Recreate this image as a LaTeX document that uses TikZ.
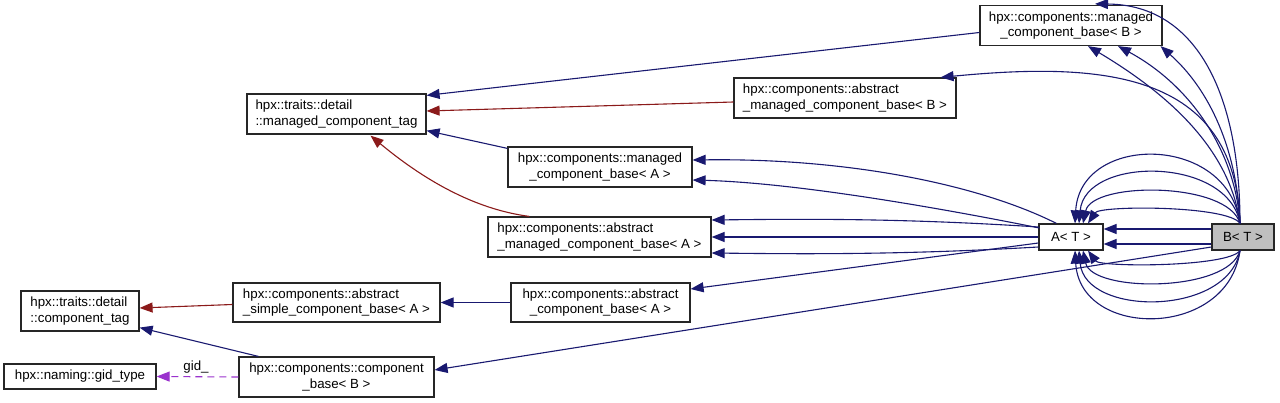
\documentclass[tikz,border=0pt]{standalone}
\usepackage{fontspec}
\setmainfont{Liberation Sans}
\usetikzlibrary{arrows.meta,calc}
\definecolor{navy}{HTML}{191970}
\definecolor{dred}{HTML}{8B1A1A}
\definecolor{dpurple}{HTML}{9A32CD}
\definecolor{lgray}{HTML}{BFBFBF}
\begin{document}
\begin{tikzpicture}[x=1pt,y=-1pt,
  box/.style={draw=black!85, line width=1.2pt, fill=white, inner sep=0pt,
    font=\fontsize{13.3}{15.5}\selectfont},
  tip/.style={-{Triangle[length=13pt,width=10pt]}},
  inh/.style={tip, draw=navy, line width=1.1pt},
  priv/.style={tip, draw=dred, line width=1.1pt},
  use/.style={-{Triangle[length=13pt,width=10pt,fill=dpurple]}, draw=dpurple, line width=1.1pt, dash pattern=on 7pt off 5pt},
  lbl/.style={font=\fontsize{13.3}{15.5}\selectfont, inner sep=0pt}]
\useasboundingbox (0,0) rectangle (1280,403);
\fill[white] (0,0) rectangle (1280,403);

% nodes
\node[box, align=center, minimum width=182pt, minimum height=40pt] (mcbB) at (1071,25.5) {hpx::components::managed\\\_component\_base< B >};
\node[box, align=left, minimum width=222pt, minimum height=40pt] (amcbB) at (845,98) {hpx::components::abstract\\\_managed\_component\_base< B >};
\node[box, align=left, minimum width=179pt, minimum height=40pt] (mctag) at (336.5,114) {hpx::traits::detail\\::managed\_component\_tag};
\node[box, align=center, minimum width=184pt, minimum height=40pt] (mcbA) at (600,167) {hpx::components::managed\\\_component\_base< A >};
\node[box, align=left, minimum width=223pt, minimum height=40pt] (amcbA) at (599.5,237) {hpx::components::abstract\\\_managed\_component\_base< A >};
\node[box, align=center, minimum width=179pt, minimum height=39pt] (acbA) at (600.5,302.5) {hpx::components::abstract\\\_component\_base< A >};
\node[box, minimum width=64pt, minimum height=26pt] (AT) at (1071,237) {A< T >};
\node[box, fill=lgray, minimum width=62pt, minimum height=26pt] (BT) at (1243,237) {B< T >};
\node[box, align=left, minimum width=118pt, minimum height=40pt] (ctag) at (80,311) {hpx::traits::detail\\::component\_tag};
\node[box, align=left, minimum width=207pt, minimum height=39pt] (ascbA) at (336.5,302.5) {hpx::components::abstract\\\_simple\_component\_base< A >};
\node[box, minimum width=152pt, minimum height=25pt] (gid) at (80,376.5) {hpx::naming::gid\_type};
\node[box, align=center, minimum width=195pt, minimum height=40pt] (cbB) at (336.5,377) {hpx::components::component\\\_base< B >};

% edges to managed_component_tag
\draw[inh] ($(mcbB.west)+(0,7)$) -- ($(mctag.north east)+(0,2)$);
\draw[priv] ($(amcbB.west)+(0,4)$) -- ($(mctag.east)+(0,-3)$);
\draw[inh] ($(mcbA.north west)+(0,2)$) -- ($(mctag.south east)+(0,-4)$);
\draw[priv] ($(amcbA.north west)+(42,0)$) .. controls (480,210) and (430,185) .. ($(mctag.south)+(34,1)$);

% A<T> to bases
\draw[inh] ($(AT.north west)+(18,0)$) .. controls (980,185) and (850,158) .. ($(mcbA.east)+(0,-7)$);
\draw[inh] ($(AT.west)+(1,-9)$) .. controls (950,210) and (800,183) .. ($(mcbA.east)+(0,13)$);
\draw[inh] ($(AT.west)+(0,-10)$) .. controls (900,218) and (800,219) .. ($(amcbA.east)+(0,-17)$);
\draw[inh] (AT.west) -- (amcbA.east);
\draw[inh] ($(AT.west)+(0,10)$) .. controls (900,255) and (800,254) .. ($(amcbA.east)+(0,16)$);
\draw[inh] ($(AT.west)+(0,6)$) -- ($(acbA.east)+(0,-13.5)$);

% lower left
\draw[inh] (acbA.west) -- (ascbA.east);
\draw[priv] ($(ascbA.west)+(0,2)$) -- ($(ctag.east)+(0,-3)$);
\draw[inh] ($(cbB.north west)+(20,0)$) -- ($(ctag.south east)+(0,-4)$);
\draw[use] (cbB.west) -- (gid.east);
\node[lbl] (gidlbl) at (196,367) {gid\_};

% B<T> edges
\draw[inh] ($(BT.west)+(0,10)$) -- ($(cbB.east)+(0,-7)$);
\draw[inh] ($(BT.west)+(0,-8)$) -- ($(AT.east)+(0,-8)$);
\draw[inh] ($(BT.west)+(0,7)$) -- ($(AT.east)+(0,7)$);

\draw[inh] ($(BT.north)+(-3,0)$) .. controls (1228,133.3) and (1080,133.3) .. ($(AT.north)+(4,0)$);
\draw[inh] ($(BT.north)+(-3,0)$) .. controls (1228,156) and (1085,156) .. ($(AT.north)+(8,0)$);
\draw[inh] ($(BT.north)+(-3,0)$) .. controls (1228,181.3) and (1092,181.3) .. ($(AT.north)+(12,0)$);
\draw[inh] ($(BT.north)+(-3,0)$) .. controls (1228,205.3) and (1100,205.3) .. ($(AT.north)+(17,0)$);

\draw[inh] ($(BT.south)+(-3,0)$) .. controls (1228,267.3) and (1100,267.3) .. ($(AT.south)+(17,0)$);
\draw[inh] ($(BT.south)+(-3,0)$) .. controls (1228,292.7) and (1092,292.7) .. ($(AT.south)+(12,0)$);
\draw[inh] ($(BT.south)+(-3,0)$) .. controls (1228,316.7) and (1085,316.7) .. ($(AT.south)+(8,0)$);
\draw[inh] ($(BT.south)+(-3,0)$) .. controls (1228,339.3) and (1080,339.3) .. ($(AT.south)+(4,0)$);

\draw[inh] ($(BT.north)+(-3,0)$) .. controls (1240,100) and (1200,5) .. ($(mcbB.north)+(24,-1)$);
\draw[inh] ($(BT.north)+(-3,0)$) .. controls (1237,150) and (1210,90) .. ($(mcbB.south east)+(-2,0)$);
\draw[inh] ($(BT.north)+(-3,0)$) .. controls (1235,150) and (1190,85) .. ($(mcbB.south)+(47,0)$);
\draw[inh] ($(BT.north)+(-3,0)$) .. controls (1230,150) and (1170,95) .. ($(mcbB.south)+(17,0)$);
\draw[inh] ($(BT.north)+(-3,0)$) .. controls (1235,70) and (1100,62) .. ($(amcbB.north east)+(-16,0)$);
\end{tikzpicture}
\end{document}
